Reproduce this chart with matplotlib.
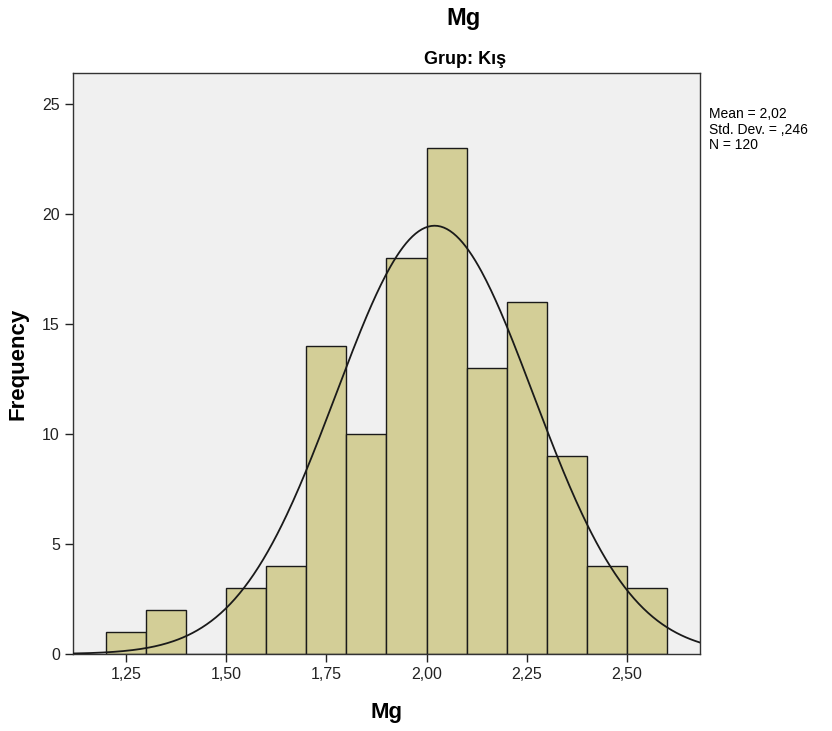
import numpy as np
import matplotlib
matplotlib.use("Agg")
import matplotlib.pyplot as plt

plt.rcParams['font.family'] = ['Liberation Sans', 'DejaVu Sans']

bin_edges = [1.2, 1.3, 1.4, 1.5, 1.6, 1.7, 1.8, 1.9, 2.0, 2.1, 2.2, 2.3, 2.4, 2.5, 2.6]
counts = [1, 2, 0, 3, 4, 14, 10, 18, 23, 13, 16, 9, 4, 3]
mean, sd, n = 2.02, 0.246, 120
xticks = [1.25, 1.50, 1.75, 2.00, 2.25, 2.50]
xtick_labels = ['1,25', '1,50', '1,75', '2,00', '2,25', '2,50']
yticks = [0, 5, 10, 15, 20, 25]

fig = plt.figure(figsize=(8.32, 7.31), dpi=100)
ax = fig.add_axes([73/832, 77/731, 627/832, 581/731])
ax.set_facecolor('#F0F0F0')

edges = np.array(bin_edges)
widths = np.diff(edges)
ax.bar(edges[:-1], counts, width=widths, align='edge', color='#D3CE97',
       edgecolor='#1a1a1a', linewidth=1.0, zorder=2)

xmin, xmax = 1.118, 2.682
xs = np.linspace(xmin, xmax, 400)
bw = widths[0]
ys = n * bw / (sd * np.sqrt(2 * np.pi)) * np.exp(-0.5 * ((xs - mean) / sd) ** 2)
ax.plot(xs, ys, color='#1a1a1a', linewidth=1.3, zorder=3)

ax.set_xlim(xmin, xmax)
ax.set_ylim(0, 26.4)
ax.set_xticks(xticks)
ax.set_xticklabels(xtick_labels)
ax.set_yticks(yticks)
ax.tick_params(direction='out', length=6, width=1, labelsize=11.5, colors='#222222')
for s in ax.spines.values():
    s.set_linewidth(1.0)
    s.set_color('#333333')

ax.set_xlabel('Mg', fontsize=16, fontweight='bold', labelpad=14)
ax.set_ylabel('Frequency', fontsize=16, fontweight='bold', labelpad=10)

fig.text(463/832, 1 - 18/731, 'Mg', ha='center', va='center',
         fontsize=17, fontweight='bold')
fig.text(465/832, 1 - 59/731, 'Grup: Kış', ha='center', va='center',
         fontsize=13, fontweight='bold')
fig.text(709/832, 1 - 107/731, 'Mean = 2,02\nStd. Dev. = ,246\nN = 120',
         ha='left', va='top', fontsize=10, linespacing=1.15)

fig.savefig('out.png', dpi=100, facecolor='white')
